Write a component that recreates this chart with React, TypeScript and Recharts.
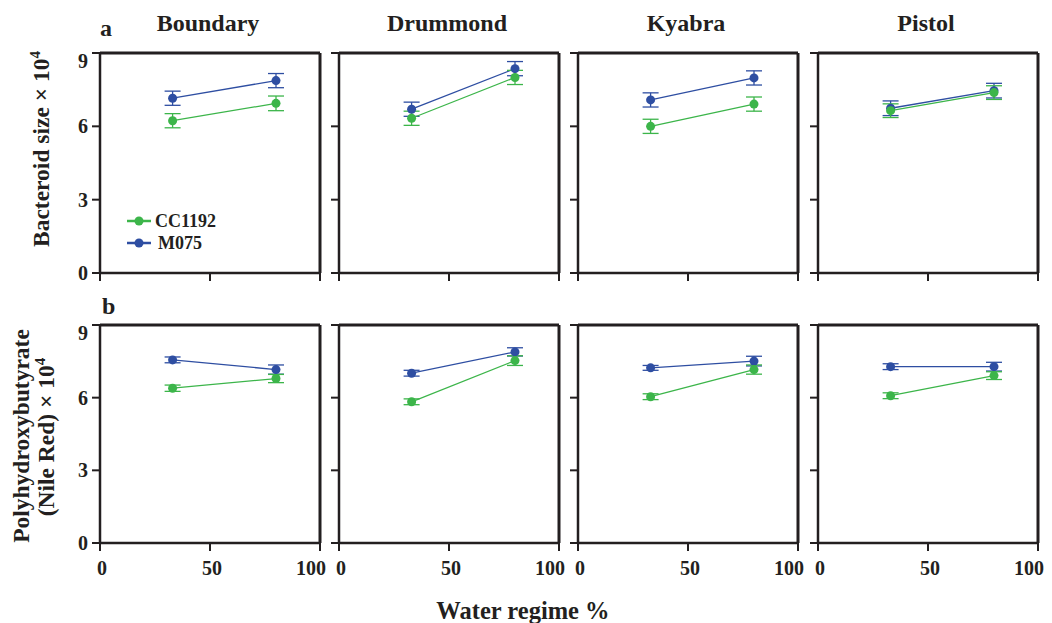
import React from "react";
import { ErrorBar, Legend, Line, LineChart, ReferenceLine, XAxis, YAxis } from "recharts";

const sites = ["Boundary", "Drummond", "Kyabra", "Pistol"];
const strains = ["CC1192", "M075"];
const waterRegime = [33, 80];
const xTicks = [0, 50, 100];
const yTicks = [0, 3, 6, 9];

// a: bacteroid size (x 10^4), [33%, 80%] per site
const sizeCC1192 = [[6.23, 6.94], [6.33, 8.0], [6.0, 6.91], [6.64, 7.38]];
const sizeCC1192Err = [[0.29, 0.3], [0.29, 0.29], [0.29, 0.29], [0.28, 0.28]];
const sizeM075 = [[7.15, 7.87], [6.7, 8.36], [7.08, 7.98], [6.74, 7.46]];
const sizeM075Err = [[0.29, 0.29], [0.29, 0.29], [0.29, 0.29], [0.3, 0.3]];

// b: polyhydroxybutyrate (Nile Red, x 10^4)
const phbCC1192 = [[6.39, 6.79], [5.83, 7.53], [6.04, 7.16], [6.08, 6.91]];
const phbCC1192Err = [[0.13, 0.17], [0.12, 0.2], [0.12, 0.19], [0.12, 0.16]];
const phbM075 = [[7.56, 7.16], [7.01, 7.89], [7.23, 7.51], [7.28, 7.28]];
const phbM075Err = [[0.12, 0.19], [0.12, 0.17], [0.1, 0.2], [0.12, 0.18]];

const INK = "#231f20";
const GREEN = "#3cb54a";
const BLUE = "#2e4ea2";
const FONT = '"Liberation Serif", "Times New Roman", serif';

const PLOT_W = 220;
const AXIS_W = 30;
const X_H = 46;
const PAD_T = 4;
const PAD_R = 10;
const colLeft = [100, 339, 578, 818];

function rows(cc: number[], ccErr: number[], m: number[], mErr: number[]) {
  return waterRegime.map((x, i) => ({ x, cc: cc[i], ccErr: ccErr[i], m: m[i], mErr: mErr[i] }));
}

function XTick(props: any) {
  const { x, y, payload, show } = props;
  if (!show) return null;
  const dx = payload.value === 100 ? -7 : 2;
  return (
    <text x={x + dx} y={y} dy="0.75em" textAnchor="middle" fontFamily={FONT} fontWeight="bold" fontSize={20} fill={INK}>
      {payload.value}
    </text>
  );
}

function LegendBox() {
  const colors = [GREEN, BLUE];
  return (
    <div style={{ fontFamily: FONT, fontWeight: "bold", fontSize: 18, color: INK }}>
      {strains.map((s, i) => (
        <div key={s} style={{ display: "flex", alignItems: "center", height: 22 }}>
          <svg width={28} height={12} style={{ marginRight: i === 1 ? 4 : 1 }}>
            <line x1={1} y1={6} x2={25} y2={6} stroke={colors[i]} strokeWidth={2.5} />
            <circle cx={13} cy={6} r={4.5} fill={colors[i]} />
          </svg>
          <span>{s}</span>
        </div>
      ))}
    </div>
  );
}

type PanelProps = {
  data: any[];
  left: number;
  top: number;
  height: number;
  showY: boolean;
  showX: boolean;
  legend?: boolean;
};

function Panel({ data, left, top, height, showY, showX, legend }: PanelProps) {
  return (
    <div style={{ position: "absolute", left: left - AXIS_W, top: top - PAD_T }}>
      <LineChart
        width={AXIS_W + PLOT_W + PAD_R}
        height={PAD_T + height + X_H}
        data={data}
        margin={{ top: PAD_T, right: PAD_R, bottom: 0, left: 0 }}
      >
        <XAxis
          dataKey="x"
          type="number"
          domain={[0, 100]}
          ticks={xTicks}
          height={X_H}
          tickSize={8}
          tickMargin={9}
          axisLine={{ stroke: INK, strokeWidth: 2.5 }}
          tickLine={{ stroke: INK, strokeWidth: 2 }}
          tick={<XTick show={showX} />}
        />
        <YAxis
          type="number"
          domain={[0, 9]}
          ticks={yTicks}
          width={AXIS_W}
          tickSize={8}
          tickMargin={4}
          axisLine={{ stroke: INK, strokeWidth: 2.5 }}
          tickLine={{ stroke: INK, strokeWidth: 2 }}
          tickFormatter={(v) => (showY ? String(v) : "")}
          tick={{ fontFamily: FONT, fontWeight: "bold", fontSize: 20, fill: INK }}
        />
        <ReferenceLine y={9} stroke={INK} strokeWidth={3} />
        <ReferenceLine x={100} stroke={INK} strokeWidth={3} />
        <Line
          dataKey="m"
          name="M075"
          stroke={BLUE}
          strokeWidth={1.3}
          dot={{ r: 4.5, fill: BLUE, stroke: BLUE, strokeWidth: 0 }}
          isAnimationActive={false}
        >
          <ErrorBar dataKey="mErr" direction="y" width={8} stroke={BLUE} strokeWidth={1.3} />
        </Line>
        <Line
          dataKey="cc"
          name="CC1192"
          stroke={GREEN}
          strokeWidth={1.3}
          dot={{ r: 4.5, fill: GREEN, stroke: GREEN, strokeWidth: 0 }}
          isAnimationActive={false}
        >
          <ErrorBar dataKey="ccErr" direction="y" width={8} stroke={GREEN} strokeWidth={1.3} />
        </Line>
        {legend && (
          <Legend
            layout="vertical"
            align="center"
            verticalAlign="middle"
            content={() => <LegendBox />}
            wrapperStyle={{ left: 56, top: 161, width: 110 }}
          />
        )}
      </LineChart>
    </div>
  );
}

export default function App() {
  const textProps = { fontFamily: FONT, fontWeight: "bold" as const, fill: INK };
  return (
    <div style={{ position: "absolute", left: 0, top: 0, width: 1052, height: 623, background: "#fff", overflow: "hidden" }}>
      {sites.map((s, i) => (
        <Panel
          key={"a" + s}
          data={rows(sizeCC1192[i], sizeCC1192Err[i], sizeM075[i], sizeM075Err[i])}
          left={colLeft[i]}
          top={53}
          height={220}
          showY={i === 0}
          showX={false}
          legend={i === 0}
        />
      ))}
      {sites.map((s, i) => (
        <Panel
          key={"b" + s}
          data={rows(phbCC1192[i], phbCC1192Err[i], phbM075[i], phbM075Err[i])}
          left={colLeft[i]}
          top={325}
          height={218}
          showY={i === 0}
          showX={true}
        />
      ))}
      <svg width={1052} height={623} style={{ position: "absolute", left: 0, top: 0, pointerEvents: "none" }}>
        {sites.map((s, i) => (
          <text key={s} x={colLeft[i] + PLOT_W / 2 - 2} y={31} textAnchor="middle" fontSize={24} {...textProps}>
            {s}
          </text>
        ))}
        <text x={100} y={36} fontSize={24} {...textProps}>a</text>
        <text x={102} y={314} fontSize={24} {...textProps}>b</text>
        <text x={49} y={149} textAnchor="middle" fontSize={23.5} transform="rotate(-90 49 149)" {...textProps}>
          Bacteroid size × 10<tspan dy={-9} fontSize={15}>4</tspan>
        </text>
        <text x={29} y={436} textAnchor="middle" fontSize={23.5} transform="rotate(-90 29 436)" {...textProps}>
          Polyhydroxybutyrate
        </text>
        <text x={54} y={437} textAnchor="middle" fontSize={23.5} transform="rotate(-90 54 437)" {...textProps}>
          (Nile Red) × 10<tspan dy={-9} fontSize={15}>4</tspan>
        </text>
        <text x={523} y={619} textAnchor="middle" fontSize={24.5} {...textProps}>
          Water regime %
        </text>
      </svg>
    </div>
  );
}
